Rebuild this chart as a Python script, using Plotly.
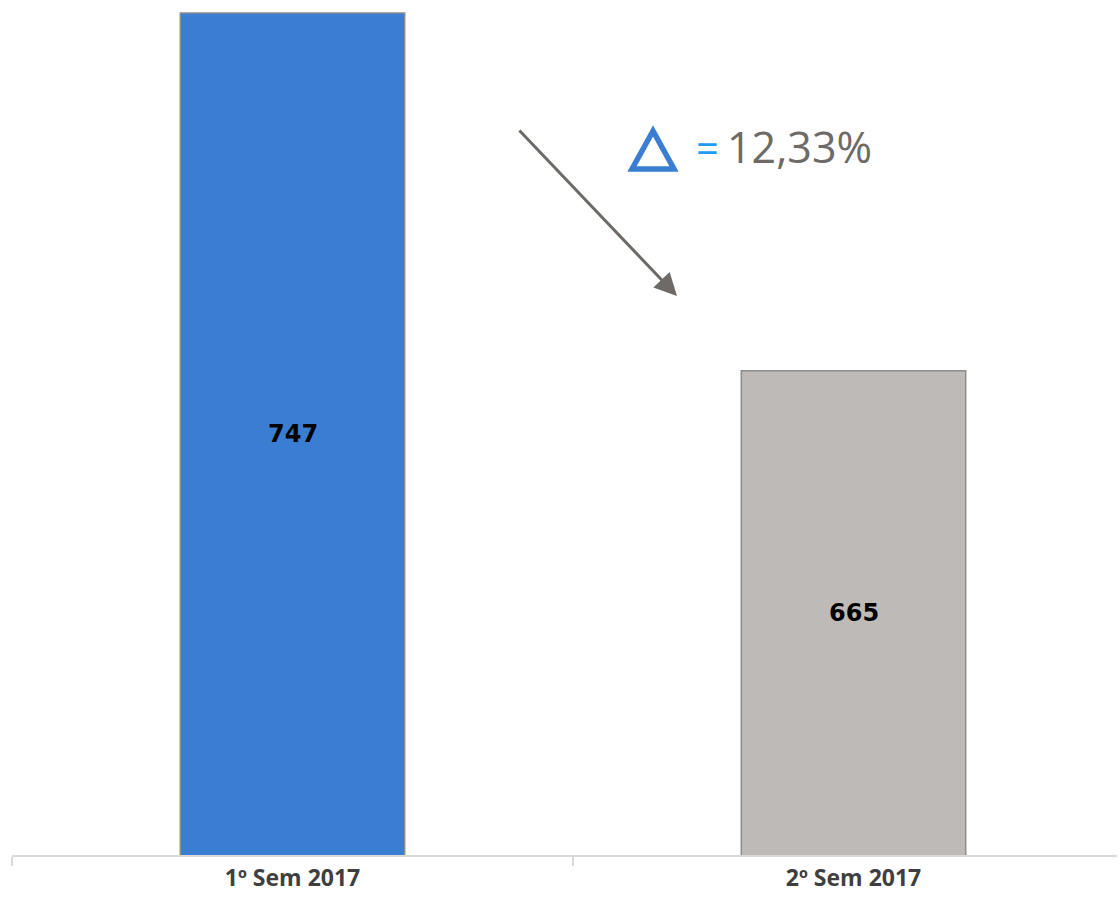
import plotly.graph_objects as go

# Semester totals
categories = ["1º Sem 2017", "2º Sem 2017"]
values = [747, 665]
bar_colors = ["#3a7ed4", "#bebab7"]
change_label = "12,33%"

Y_MIN, Y_MAX = 554, 750

W, H = 1120, 898
ML, MR, MT, MB = 12, 3, 0, 43
PW, PH = W - ML - MR, H - MT - MB


def px(x, y):
    """Convert figure pixel coordinates to paper coordinates."""
    return (x - ML) / PW, (H - MB - y) / PH


fig = go.Figure()
fig.add_trace(go.Bar(
    x=categories,
    y=values,
    width=0.4,
    marker=dict(color=bar_colors, line=dict(color="#8c8c8c", width=1.5)),
    hoverinfo="x+y",
))

annotations = []
# Value labels centred in the visible part of each bar
for cat, v in zip(categories, values):
    annotations.append(dict(
        xref="x", yref="y", x=cat, y=(Y_MIN + v) / 2,
        text=str(v), showarrow=False, xanchor="center", yanchor="middle",
        font=dict(family="DejaVu Sans", size=24, color="#000000", weight="bold"),
    ))

# Downward trend arrow
hx, hy = px(677, 296)
annotations.append(dict(
    xref="paper", yref="paper", x=hx, y=hy,
    ax=518 - 677, ay=129 - 296, axref="pixel", ayref="pixel",
    showarrow=True, arrowhead=2, arrowsize=1.5, arrowwidth=3,
    arrowcolor="#6d6a67", text="",
))
# "=" sign and percentage change
ex, ey = px(707, 148)
annotations.append(dict(
    xref="paper", yref="paper", x=ex, y=ey, xanchor="center", yanchor="middle",
    text="=", showarrow=False,
    font=dict(family="Open Sans", size=40, color="#1f9cf2"),
))
tx, ty = px(725, 147)
annotations.append(dict(
    xref="paper", yref="paper", x=tx, y=ty, xanchor="left", yanchor="middle",
    text=change_label, showarrow=False,
    font=dict(family="Open Sans", size=43, color="#6d6a67"),
))

# Delta triangle outline
p1 = px(653, 131)
p2 = px(632, 169)
p3 = px(674, 169)
shapes = [dict(
    type="path", xref="paper", yref="paper",
    path=f"M {p1[0]} {p1[1]} L {p2[0]} {p2[1]} L {p3[0]} {p3[1]} Z",
    line=dict(color="#3a7ed4", width=5.5), fillcolor="rgba(0,0,0,0)",
)]

fig.update_layout(
    width=W, height=H,
    margin=dict(l=ML, r=MR, t=MT, b=MB),
    paper_bgcolor="white", plot_bgcolor="white",
    showlegend=False,
    annotations=annotations,
    shapes=shapes,
    xaxis=dict(
        type="category",
        range=[-0.5, -0.5 + PW / 561],
        showline=True, linecolor="#d9d9d9", linewidth=2,
        ticks="outside", tickson="boundaries", ticklen=9, tickwidth=2,
        tickcolor="#d9d9d9",
        showgrid=False, zeroline=False,
        tickfont=dict(family="Open Sans", size=23, color="#3f3f3f", weight="bold"),
        ticklabelstandoff=1,
    ),
    yaxis=dict(
        range=[Y_MIN, Y_MAX],
        visible=False, showgrid=False, zeroline=False,
    ),
)

fig.write_html("out.html")
